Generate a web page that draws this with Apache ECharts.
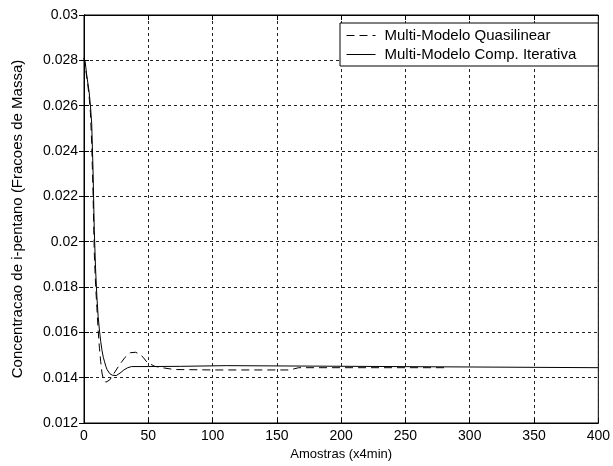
<!DOCTYPE html>
<html><head><meta charset="utf-8">
<script src="https://cdn.jsdelivr.net/npm/echarts@6/dist/echarts.min.js"></script>
<style>html,body{margin:0;padding:0;background:#fff}#c{width:613px;height:466px}</style>
</head><body><div id="c"></div>
<script>
var seriesNames = ['Multi-Modelo Quasilinear', 'Multi-Modelo Comp. Iterativa'];
var xTicks = [0, 50, 100, 150, 200, 250, 300, 350, 400];
var yTicks = [0.012, 0.014, 0.016, 0.018, 0.02, 0.022, 0.024, 0.026, 0.028, 0.03];

var quasiX = [0, 1, 2, 3, 4, 5, 6, 7, 8, 9, 10, 11, 12, 13, 14, 15, 17, 20, 24, 28, 32, 36, 40, 43, 46, 49, 55, 62, 70, 100, 160, 167, 280];
var quasiY = [0.0281, 0.0278, 0.0273, 0.0269, 0.0264, 0.0257, 0.0243, 0.0222, 0.0195, 0.0181, 0.0171, 0.0161, 0.0153, 0.0147, 0.0142, 0.01395, 0.0138, 0.0139, 0.01425, 0.0146, 0.0149, 0.0151, 0.01512, 0.01505, 0.0149, 0.01468, 0.0145, 0.01443, 0.01436, 0.01434, 0.01434, 0.01444, 0.01444];

var iterX = [0, 1, 2, 3, 4, 5, 6, 7, 8, 9, 10, 11, 12, 13, 14, 15, 16, 17, 18, 20, 22, 25, 28, 31, 34, 37, 50, 75, 76, 111, 112, 400];
var iterY = [0.0281, 0.0279, 0.0274, 0.0270, 0.0266, 0.0260, 0.0252, 0.0232, 0.0205, 0.0188, 0.0176, 0.0167, 0.0161, 0.0156, 0.0152, 0.0149, 0.0147, 0.0145, 0.01435, 0.01418, 0.01411, 0.01409, 0.0142, 0.01434, 0.01444, 0.01449, 0.01449, 0.0145, 0.01453, 0.01453, 0.01445, 0.01444];

function zip(a, b) { return a.map(function (v, i) { return [v, b[i]]; }); }

var FONT = 'Liberation Sans, Arial, sans-serif';
var gridLine = { show: true, lineStyle: { color: '#222', width: 1, type: [3, 3] } };
var tickIn = { show: true, inside: true, length: 5, lineStyle: { color: '#000' } };

var chart = echarts.init(document.getElementById('c'), null, { renderer: 'canvas' });
chart.setOption({
  animation: false,
  backgroundColor: '#fff',
  grid: { left: 84, top: 15, right: 13, bottom: 43, show: true, borderColor: '#000', borderWidth: 1, backgroundColor: '#fff' },
  legend: {
    orient: 'vertical', left: 340, top: 23,
    data: seriesNames,
    itemWidth: 29, itemHeight: 14, itemGap: 4,
    padding: [5, 22, 4, 6],
    borderColor: '#000', borderWidth: 1, backgroundColor: '#fff',
    itemStyle: { opacity: 0 },
    lineStyle: { width: 1, color: '#000' },
    textStyle: { fontFamily: FONT, fontSize: 15, color: '#000', padding: [0, 0, 0, 4] }
  },
  xAxis: [{
    type: 'value', min: 0, max: 400, interval: 50,
    name: 'Amostras (x4min)', nameLocation: 'middle', nameGap: 25,
    nameTextStyle: { fontFamily: FONT, fontSize: 13, color: '#000' },
    axisLine: { show: true, lineStyle: { color: '#000' } },
    axisTick: tickIn,
    axisLabel: { fontFamily: FONT, fontSize: 14, color: '#000', margin: 6 },
    splitLine: gridLine
  }, {
    type: 'value', min: 0, max: 400, interval: 50, position: 'top',
    axisLine: { show: true, lineStyle: { color: '#000' } },
    axisTick: tickIn, axisLabel: { show: false }, splitLine: { show: false }
  }],
  yAxis: [{
    type: 'value', min: 0.012, max: 0.03, interval: 0.002,
    name: 'Concentracao de i-pentano (Fracoes de Massa)', nameLocation: 'middle', nameGap: 59,
    nameTextStyle: { fontFamily: FONT, fontSize: 15, color: '#000' },
    axisLine: { show: true, lineStyle: { color: '#000' } },
    axisTick: tickIn,
    axisLabel: { fontFamily: FONT, fontSize: 14, color: '#000', margin: 6,
      formatter: function (v) { return String(parseFloat(v.toFixed(3))); } },
    splitLine: gridLine
  }, {
    type: 'value', min: 0.012, max: 0.03, interval: 0.002, position: 'right',
    axisLine: { show: true, lineStyle: { color: '#000' } },
    axisTick: tickIn, axisLabel: { show: false }, splitLine: { show: false }
  }],
  series: [{
    name: seriesNames[0], type: 'line', showSymbol: false, symbol: 'none',
    data: zip(quasiX, quasiY),
    lineStyle: { color: '#000', width: 1, type: [8, 5] }, itemStyle: { color: '#000' }, z: 3
  }, {
    name: seriesNames[1], type: 'line', showSymbol: false, symbol: 'none',
    data: zip(iterX, iterY),
    lineStyle: { color: '#000', width: 1, type: 'solid' }, itemStyle: { color: '#000' }, z: 4
  }]
});
</script></body></html>
